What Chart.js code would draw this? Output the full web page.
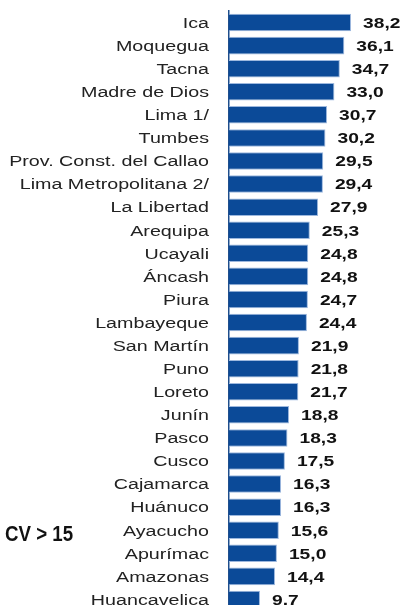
<!DOCTYPE html>
<html>
<head>
<meta charset="utf-8">
<script src="https://cdn.jsdelivr.net/npm/chart.js@4"></script>
<style>
  html, body { margin: 0; padding: 0; background: #fff; overflow: hidden; }
  #wrap { position: relative; width: 401px; height: 611px; }
  #cvNote {
    position: absolute; left: 5px; top: 521px;
    font-family: "Liberation Sans", Arial, sans-serif;
    font-weight: bold; font-size: 22px; color: #111; white-space: nowrap;
    transform: scaleX(0.85); transform-origin: left center;
  }
</style>
</head>
<body>
<div id="wrap">
  <canvas id="myChart" width="401" height="611"></canvas>
  <div id="cvNote">CV &gt; 15</div>
</div>
<script>
// regiones y valores
var regiones = ["Ica", "Moquegua", "Tacna", "Madre de Dios", "Lima 1/", "Tumbes",
    "Prov. Const. del Callao", "Lima Metropolitana 2/", "La Libertad", "Arequipa",
    "Ucayali", "Áncash", "Piura", "Lambayeque", "San Martín", "Puno", "Loreto",
    "Junín", "Pasco", "Cusco", "Cajamarca", "Huánuco", "Ayacucho", "Apurímac",
    "Amazonas", "Huancavelica"];
var valores = [38.2, 36.1, 34.7, 33.0, 30.7, 30.2, 29.5, 29.4, 27.9, 25.3, 24.8, 24.8,
    24.7, 24.4, 21.9, 21.8, 21.7, 18.8, 18.3, 17.5, 16.3, 16.3, 15.6, 15.0, 14.4, 9.7];

// textos ensanchados (la imagen original esta estirada en horizontal)
var textos = {
    id: 'textos',
    afterDatasetsDraw: function(chart) {
        var ctx = chart.ctx;
        var meta = chart.getDatasetMeta(0);
        var yScale = chart.scales.y;
        ctx.save();
        ctx.textBaseline = 'middle';
        // nombres de las regiones
        ctx.font = '15.5px "Liberation Sans", Arial, sans-serif';
        ctx.fillStyle = '#222';
        ctx.textAlign = 'right';
        regiones.forEach(function(r, i) {
            ctx.save();
            ctx.translate(yScale.right - 20, yScale.getPixelForTick(i) + 1);
            ctx.scale(1.27, 1);
            ctx.fillText(r, 0, 0);
            ctx.restore();
        });
        // valores al final de cada barra
        ctx.font = 'bold 15.5px "Liberation Sans", Arial, sans-serif';
        ctx.fillStyle = '#111';
        ctx.textAlign = 'left';
        meta.data.forEach(function(bar, i) {
            ctx.save();
            ctx.translate(bar.x + 12, bar.y + 1);
            ctx.scale(1.24, 1);
            ctx.fillText(valores[i].toFixed(1).replace('.', ','), 0, 0);
            ctx.restore();
        });
        ctx.restore();
    }
};

var ctx = document.getElementById("myChart").getContext('2d');
var myChart = new Chart(ctx, {
    type: 'bar',
    data: {
        labels: regiones,
        datasets: [{
            data: valores,
            backgroundColor: '#0B4A98',
            borderColor: '#9DB8DE',
            borderWidth: 1,
            categoryPercentage: 1,
            barPercentage: 0.76
        }]
    },
    options: {
        indexAxis: 'y',
        responsive: false,
        animation: false,
        layout: { padding: { top: 11, right: 0, bottom: 0, left: 0 } },
        plugins: { legend: { display: false }, tooltip: { enabled: false } },
        scales: {
            x: { display: false, min: 0, max: 53.85 },
            y: {
                afterFit: function(scale) {
                    scale.width = 229;
                    scale.paddingTop = 0;
                    scale.paddingBottom = 0;
                },
                grid: { display: false, drawTicks: false },
                border: { display: true, color: '#1F4E8C', width: 1.5 },
                ticks: { display: false }
            }
        }
    },
    plugins: [textos]
});
</script>
</body>
</html>
